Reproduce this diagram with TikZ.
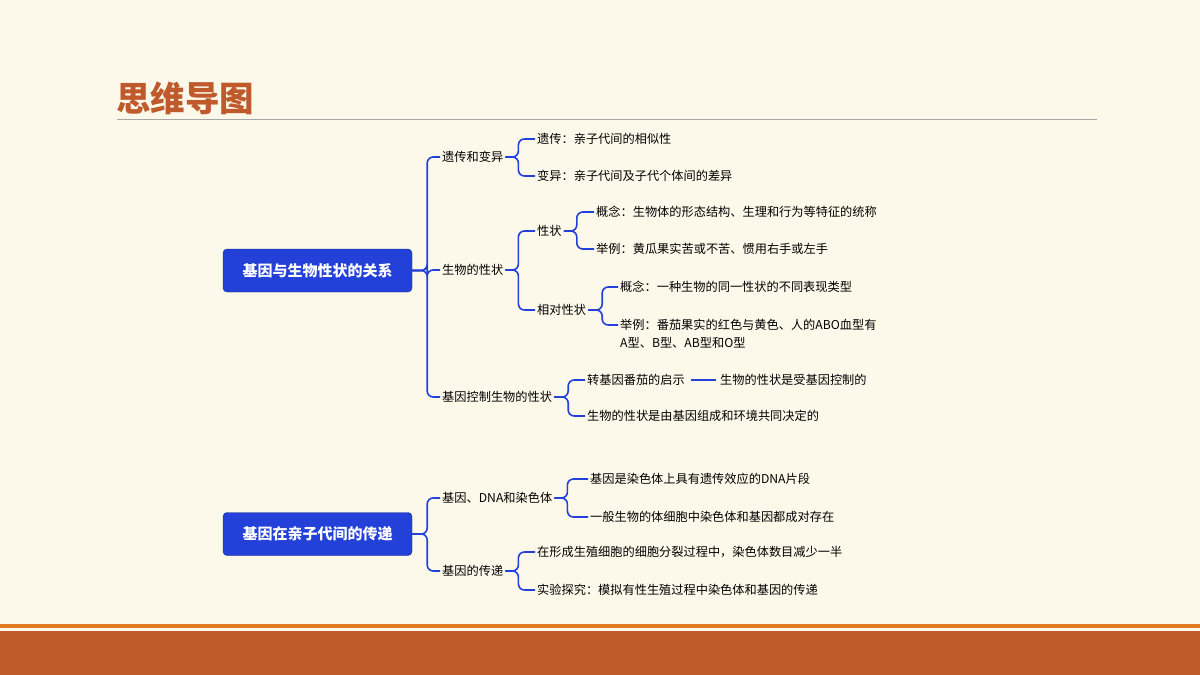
\documentclass[tikz,border=0pt]{standalone}
\usepackage{fontspec}
\setmainfont{Noto Sans CJK SC}
\begin{document}
\begin{tikzpicture}[x=1pt,y=-1pt,
  lbl/.style={anchor=west,inner sep=2pt,font=\fontsize{12.2}{14}\selectfont,text=black},
  root/.style={fill=rootblue,draw=rootblue!70!black,rounded corners=4pt,text=white,font=\fontsize{15}{18}\selectfont\bfseries,minimum width=189pt,minimum height=43pt},
  conn/.style={draw=rootblue,line width=1.6pt,rounded corners=6pt}]
\definecolor{bg}{HTML}{FDF9EA}
\definecolor{rootblue}{HTML}{2340D8}
\definecolor{brown}{HTML}{BF5A2C}
\definecolor{orng}{HTML}{E07B20}
\fill[bg] (0,0) rectangle (1200,675);
\useasboundingbox (0,0) rectangle (1200,675);
\node[anchor=west,inner sep=0,text=brown,font=\fontsize{34.5}{37}\selectfont\bfseries] (title) at (116,98) {思维导图};
\draw[gray!70,line width=0.8pt] (117,119) -- (1097,119);
\fill[orng] (0,624) rectangle (1200,628);
\fill[brown] (0,631) rectangle (1200,675);

\node[root] (r1) at (317.5,270.5) {基因与生物性状的关系};
\node[root] (r2) at (317.5,534) {基因在亲子代间的传递};

\node[lbl] (a) at (440,157) {遗传和变异};
\node[lbl] (b) at (440,270) {生物的性状};
\node[lbl] (c) at (440,397) {基因控制生物的性状};
\node[lbl] (a1) at (535,139) {遗传：亲子代间的相似性};
\node[lbl] (a2) at (535,176) {变异：亲子代间及子代个体间的差异};
\node[lbl] (b1) at (535,231) {性状};
\node[lbl] (b2) at (535,310) {相对性状};
\node[lbl] (b11) at (594,212) {概念：生物体的形态结构、生理和行为等特征的统称};
\node[lbl] (b12) at (594,249) {举例：黄瓜果实苦或不苦、惯用右手或左手};
\node[lbl] (b21) at (618,287) {概念：一种生物的同一性状的不同表现类型};
\node[lbl] (b22) at (618,325) {举例：番茄果实的红色与黄色、人的ABO血型有};
\node[lbl] (b22b) at (618,343) {A型、B型、AB型和O型};
\node[lbl] (c1) at (585,380) {转基因番茄的启示};
\node[lbl] (c1x) at (718,380) {生物的性状是受基因控制的};
\node[lbl] (c2) at (585,416) {生物的性状是由基因组成和环境共同决定的};

\node[lbl] (d) at (440,498) {基因、DNA和染色体};
\node[lbl] (e) at (440,571) {基因的传递};
\node[lbl] (d1) at (588,479) {基因是染色体上具有遗传效应的DNA片段};
\node[lbl] (d2) at (588,517) {一般生物的体细胞中染色体和基因都成对存在};
\node[lbl] (e1) at (535,552) {在形成生殖细胞的细胞分裂过程中，染色体数目减少一半};
\node[lbl] (e2) at (535,590) {实验探究：模拟有性生殖过程中染色体和基因的传递};

\foreach \p/\c/\d in {r1/a/15,r1/b/15,r1/c/15,a/a1/13,a/a2/13,b/b1/13,b/b2/13,
  b1/b11/13,b1/b12/13,b2/b21/14,b2/b22/14,c/c1/14,c/c2/14,r2/d/15,r2/e/15,
  d/d1/13,d/d2/13,e/e1/13,e/e2/13}
  \draw[conn] (\p.east) -- ++(\d,0) |- (\c.west);
\draw[rootblue,line width=1.4pt] (c1.east) ++(4,0) -- ([xshift=-2pt]c1x.west);
\end{tikzpicture}
\end{document}
